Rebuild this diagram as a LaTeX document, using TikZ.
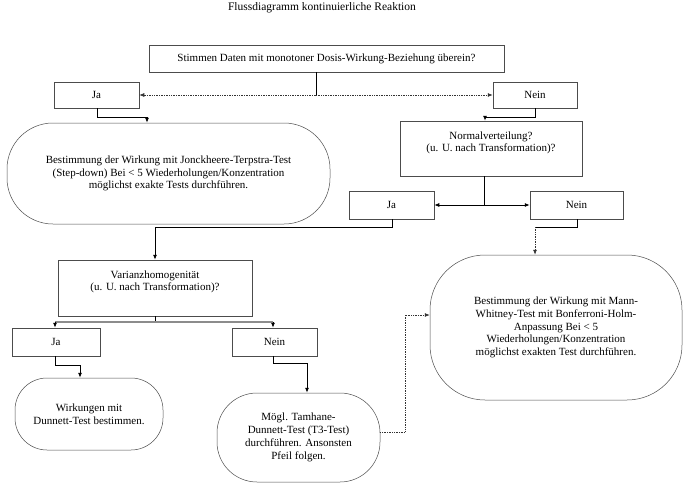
\documentclass[tikz,border=0pt]{standalone}
\usepackage{fontspec}
\setmainfont{Liberation Serif}
\usetikzlibrary{arrows.meta}
\tikzset{
  boxbase/.style={draw=black!70, line width=0.5pt, align=center, inner sep=2pt,
    font=\fontsize{11}{12.8}\selectfont},
  rectbox/.style={boxbase},
  roundbox/.style={boxbase, rounded corners=#1},
  conn/.style={draw=black, line width=0.8pt},
  dotconn/.style={draw=black!80, line width=0.7pt, densely dotted},
  tip/.style={-{Latex[length=5pt,width=4pt]}},
}
\begin{document}
\begin{tikzpicture}[x=1pt,y=-1pt]
\useasboundingbox (0,0) rectangle (685,487);
\node[font=\fontsize{11.5}{13}\selectfont] (title) at (322,8) {Flussdiagramm kontinuierliche Reaktion};

\node[rectbox, minimum width=355pt, minimum height=27pt] (q1) at (326.5,58.5)
  {Stimmen Daten mit monotoner Dosis-Wirkung-Beziehung überein?};
\node[rectbox, minimum width=85pt, minimum height=26pt] (ja1) at (96.5,95) {Ja};
\node[rectbox, minimum width=84pt, minimum height=26pt] (nein1) at (535,95) {Nein};
\node[roundbox=46pt, minimum width=323pt, minimum height=101pt] (r1) at (168.5,173.5)
  {Bestimmung der Wirkung mit Jonckheere-Terpstra-Test\\(Step-down) Bei < 5 Wiederholungen/Konzentration\\möglichst exakte Tests durchführen.};
\node[rectbox, minimum width=182pt, minimum height=55pt] (normal) at (491,148.5)
  {Normalverteilung?\\(u. U. nach Transformation)?\\[1pt]};
\node[rectbox, minimum width=85pt, minimum height=28pt] (ja2) at (391.5,205) {Ja};
\node[rectbox, minimum width=93pt, minimum height=28pt] (nein2) at (576.5,205) {Nein};
\node[rectbox, minimum width=194pt, minimum height=56pt] (var) at (155,288)
  {Varianzhomogenität\\(u. U. nach Transformation)?\\[2pt]};
\node[rectbox, minimum width=88pt, minimum height=28pt] (ja3) at (56,342) {Ja};
\node[rectbox, minimum width=85pt, minimum height=28pt] (nein3) at (274.5,342) {Nein};
\node[roundbox=32pt, minimum width=148pt, minimum height=72pt] (dun) at (89,414)
  {Wirkungen mit\\Dunnett-Test bestimmen.};
\node[roundbox=40pt, minimum width=163pt, minimum height=89pt] (tam) at (298.5,437.5)
  {Mögl. Tamhane-\\Dunnett-Test (T3-Test)\\durchführen. Ansonsten\\Pfeil folgen.};
\node[roundbox=55pt, minimum width=252pt, minimum height=145pt] (mw) at (556,327.5)
  {Bestimmung der Wirkung mit Mann-\\Whitney-Test mit Bonferroni-Holm-\\Anpassung Bei < 5\\Wiederholungen/Konzentration\\möglichst exakten Test durchführen.};

% connectors
\coordinate (c1) at (316,95);
\draw[conn] (q1.south -| c1) -- (c1);
\draw[dotconn, tip] (c1) -- (ja1.east);
\draw[dotconn, tip] (c1) -- (nein1.west);

\coordinate (c2) at (97,117);
\coordinate (c2b) at (147,117);
\draw[conn, tip] (ja1.south -| c2) -- (c2) -- (c2b) -- (r1.north -| c2b);

\coordinate (c3) at (535,117);
\coordinate (c3b) at (485,117);
\draw[conn, tip] (nein1.south -| c3) -- (c3) -- (c3b) -- (normal.north -| c3b);

\coordinate (c4) at (484,205);
\draw[conn] (normal.south -| c4) -- (c4);
\draw[conn, tip] (c4) -- (ja2.east);
\draw[conn, tip] (c4) -- (nein2.west);

\coordinate (c5) at (392,227);
\coordinate (c5b) at (155,227);
\draw[conn, tip] (ja2.south -| c5) -- (c5) -- (c5b) -- (var.north -| c5b);

\coordinate (c6) at (577,227);
\coordinate (c6b) at (535,227);
\draw[conn] (nein2.south -| c6) -- (c6) -- (c6b);
\draw[dotconn, tip] (c6b) -- (mw.north -| c6b);

\coordinate (c7) at (155,322);
\coordinate (c7a) at (55,322);
\coordinate (c7b) at (273,322);
\draw[conn] (var.south -| c7) -- (c7);
\draw[draw=black!45, line width=1.2pt] (c7a) -- (c7b);
\draw[conn, tip] (c7a) -- (ja3.north -| c7a);
\draw[conn, tip] (c7b) -- (nein3.north -| c7b);

\coordinate (c8) at (55,365);
\coordinate (c8b) at (80,365);
\draw[conn, tip] (ja3.south -| c8) -- (c8) -- (c8b) -- (dun.north -| c8b);

\coordinate (c9) at (273,363);
\coordinate (c9b) at (307,363);
\draw[conn, tip] (nein3.south -| c9) -- (c9) -- (c9b) -- (tam.north -| c9b);

\coordinate (c10) at (405,432);
\coordinate (c10b) at (405,315);
\draw[dotconn, tip] (tam.east |- c10) -- (c10) -- (c10b) -- (mw.west |- c10b);
\end{tikzpicture}
\end{document}
